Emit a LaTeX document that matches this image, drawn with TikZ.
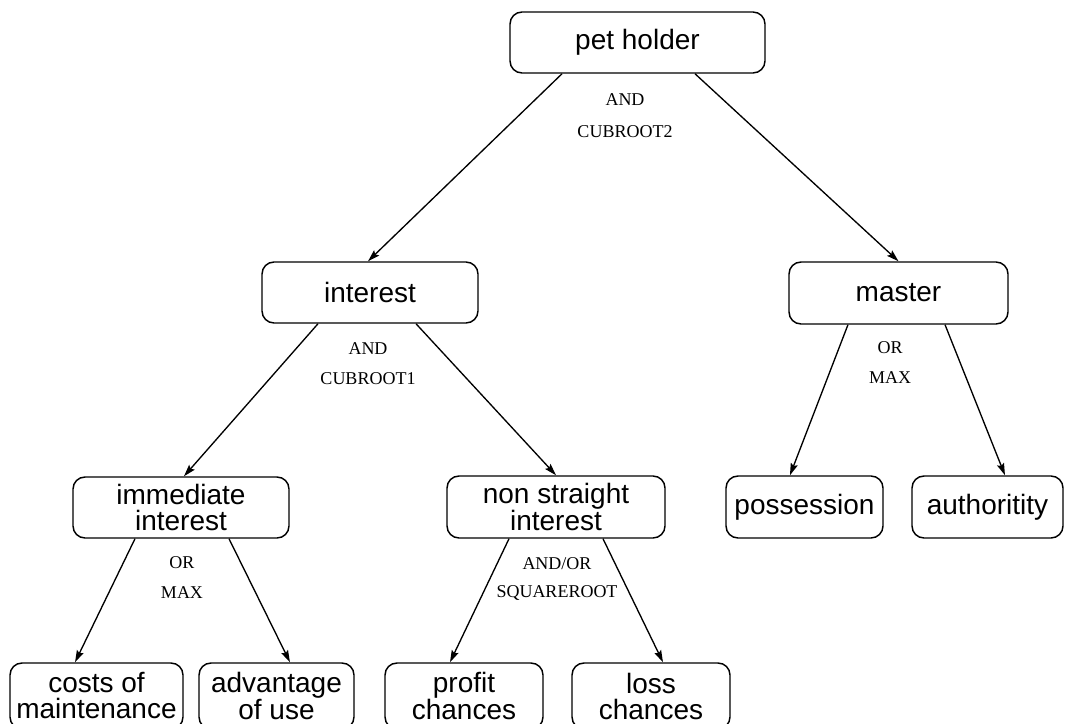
\documentclass[tikz,border=0pt]{standalone}
\usepackage{fontspec}
\setmainfont{Liberation Serif}
\newfontfamily\boxfont{Liberation Sans}
\usetikzlibrary{arrows.meta}
\tikzset{
  treebox/.style={draw=black, line width=1.1pt, rounded corners=9pt, align=center,
    inner sep=0pt, font=\boxfont\fontsize{21}{19.5}\selectfont, text=black},
  oplabel/.style={font=\fontsize{13.5}{14}\selectfont, text=black, inner sep=0pt},
  arr/.style={draw=black, line width=1pt, -{Stealth[length=9pt,width=5.5pt,inset=1.5pt]}}
}
\begin{document}
\begin{tikzpicture}[x=0.75pt,y=-0.75pt]
\useasboundingbox (0,0) rectangle (1065,724);
% nodes
\node[treebox, minimum width=191.25pt, minimum height=45.75pt] (pet) at (637.5,42.5) {pet holder};
\node[treebox, minimum width=162pt, minimum height=45.75pt] (interest) at (370,292.5) {interest};
\node[treebox, minimum width=164.25pt, minimum height=46.5pt] (master) at (898.5,293) {master};
\node[treebox, minimum width=162pt, minimum height=45.75pt] (immediate) at (181,507.5) {immediate\\interest};
\node[treebox, minimum width=163.5pt, minimum height=46.5pt] (nonstraight) at (556,507) {non straight\\interest};
\node[treebox, minimum width=117.75pt, minimum height=46.5pt] (possession) at (804.5,507) {possession};
\node[treebox, minimum width=113.25pt, minimum height=46.5pt] (authoritity) at (987.5,507) {authoritity};
\node[treebox, minimum width=129.75pt, minimum height=49.5pt] (costs) at (96.5,696) {costs of\\maintenance};
\node[treebox, minimum width=116.25pt, minimum height=49.5pt] (advantage) at (276.5,696) {advantage\\of use};
\node[treebox, minimum width=118.5pt, minimum height=49.5pt] (profit) at (464,696) {profit\\chances};
\node[treebox, minimum width=118.5pt, minimum height=49.5pt] (loss) at (651,696) {loss\\chances};
% operator labels
\node[oplabel] (l1a) at (625,100) {AND};
\node[oplabel] (l1b) at (625,132) {CUBROOT2};
\node[oplabel] (l2a) at (368,349) {AND};
\node[oplabel] (l2b) at (368,379) {CUBROOT1};
\node[oplabel] (l3a) at (890,348) {OR};
\node[oplabel] (l3b) at (890,378) {MAX};
\node[oplabel] (l4a) at (182,563) {OR};
\node[oplabel] (l4b) at (182,593) {MAX};
\node[oplabel] (l5a) at (557,564) {AND/OR};
\node[oplabel] (l5b) at (557,593) {SQUAREROOT};
% connectors
\draw[arr] ([xshift=-56.6pt]pet.south) -- ([xshift=-1.5pt]interest.north);
\draw[arr] ([xshift=43.1pt]pet.south) -- (master.north);
\draw[arr] ([xshift=-39pt]interest.south) -- ([xshift=2.25pt]immediate.north);
\draw[arr] ([xshift=34.5pt]interest.south) -- (nonstraight.north);
\draw[arr] ([xshift=-37.9pt]master.south) -- ([xshift=-10.9pt]possession.north);
\draw[arr] ([xshift=34.9pt]master.south) -- ([xshift=13.1pt]authoritity.north);
\draw[arr] ([xshift=-34.5pt]immediate.south) -- ([xshift=-16.1pt]costs.north);
\draw[arr] ([xshift=36pt]immediate.south) -- ([xshift=10.1pt]advantage.north);
\draw[arr] ([xshift=-35.25pt]nonstraight.south) -- ([xshift=-10.5pt]profit.north);
\draw[arr] ([xshift=35.25pt]nonstraight.south) -- ([xshift=9pt]loss.north);
\end{tikzpicture}
\end{document}
